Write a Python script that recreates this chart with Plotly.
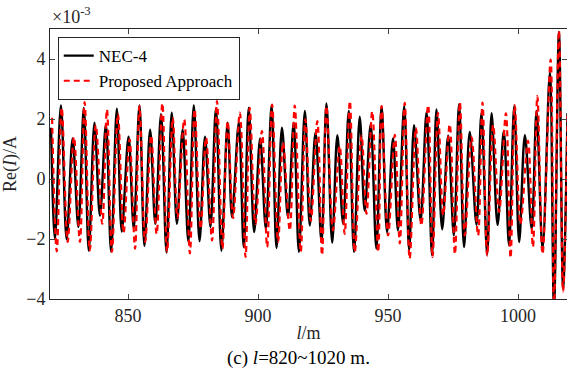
import plotly.graph_objects as go

# Position along wire l (m) of local extrema, and Re(I) values in units of 1e-3 A
nec_l = [820.4, 821.9, 824.2, 826.4, 828.7, 830.9, 833.0, 834.9, 837.1, 839.2,
         841.5, 843.5, 845.7, 847.6, 850.2, 852.2, 854.4, 856.3, 858.5, 860.5,
         862.7, 864.8, 866.8, 868.8, 871.0, 873.2, 875.3, 877.5, 879.6, 881.7,
         883.8, 885.9, 888.3, 890.0, 892.6, 894.5, 896.4, 898.5, 900.8, 903.0,
         905.2, 907.1, 909.2, 911.5, 913.7, 915.7, 918.0, 919.9, 922.1, 924.4,
         926.3, 928.5, 930.5, 932.7, 934.9, 936.9, 939.1, 941.0, 943.3, 945.5,
         947.5, 949.6, 951.9, 953.8, 956.2, 958.1, 960.0, 962.5, 964.8, 966.9,
         968.6, 970.8, 973.1, 975.3, 977.3, 979.2, 981.4, 984.0, 985.9, 988.1,
         989.8, 992.1, 994.5, 996.5, 998.5, 1000.4, 1002.6, 1005.2, 1007.1, 1009.4,
         1012.2, 1013.8, 1015.7, 1017.3, 1019.0]
nec_re = [1.71, -1.99, 2.45, -2.01, 1.35, -1.60, 2.37, -2.39, 1.88, -1.22,
          1.82, -2.42, 2.34, -1.75, 1.41, -1.64, 2.45, -2.23, 1.64, -1.49,
          2.16, -2.45, 2.21, -1.49, 1.64, -2.08, 2.45, -2.07, 1.41, -1.60,
          2.34, -2.39, 1.88, -1.27, 1.88, -2.27, 2.37, -1.77, 1.35, -1.66,
          2.45, -2.30, 1.71, -1.27, 1.88, -2.43, 2.27, -1.55, 1.55, -2.10,
          2.52, -2.12, 1.46, -1.49, 2.27, -2.43, 2.08, -1.05, 1.82, -2.32,
          2.43, -1.77, 1.35, -1.71, 2.43, -2.38, 1.79, -1.38, 2.23, -2.54,
          2.32, -1.68, 1.44, -1.88, 2.49, -2.27, 1.57, -1.53, 2.19, -2.52,
          2.19, -1.53, 1.60, -2.21, 2.43, -2.10, 1.46, -1.66, 2.27, -2.32,
          3.54, -4.30, 4.90, -3.65, 2.20]

prop_l = [820.8, 822.6, 824.5, 826.8, 829.2, 831.5, 833.3, 835.3, 837.6, 840.1,
          841.9, 843.8, 846.1, 848.3, 850.6, 852.7, 854.4, 856.6, 858.9, 861.0,
          863.2, 865.0, 867.2, 869.0, 871.6, 873.8, 875.6, 877.9, 880.0, 882.3,
          884.2, 886.3, 888.3, 890.4, 893.0, 895.2, 896.8, 899.0, 901.5, 903.5,
          905.4, 907.7, 909.6, 912.2, 914.1, 916.4, 918.2, 920.3, 922.8, 924.6,
          926.3, 928.8, 931.4, 933.3, 935.3, 937.2, 939.8, 941.7, 943.9, 946.2,
          947.5, 950.0, 952.6, 954.5, 956.4, 958.3, 960.7, 962.8, 965.4, 967.1,
          969.2, 971.2, 973.7, 975.7, 977.6, 979.5, 982.1, 984.6, 986.3, 988.1,
          990.4, 992.7, 995.3, 997.1, 998.7, 1000.9, 1003.8, 1005.7, 1007.4, 1009.4,
          1012.5, 1013.8, 1015.7, 1017.3, 1019.0]
prop_re = [2.04, -2.41, 2.37, -2.10, 1.40, -2.10, 2.56, -2.38, 1.80, -1.49,
           2.32, -2.43, 2.16, -1.80, 1.32, -2.32, 2.43, -2.10, 1.45, -1.83,
           2.52, -2.43, 2.04, -1.30, 1.99, -2.48, 2.32, -1.66, 1.38, -2.05,
           2.60, -2.32, 1.93, -1.30, 2.21, -2.60, 2.37, -1.50, 1.60, -2.27,
           2.48, -2.10, 1.21, -1.71, 2.45, -2.43, 1.99, -1.40, 1.93, -2.54,
           2.43, -1.71, 1.10, -1.83, 2.60, -2.43, 1.45, -1.16, 2.25, -2.43,
           2.43, -1.88, 1.47, -2.15, 2.54, -2.65, 1.70, -1.55, 2.46, -2.60,
           2.20, -1.20, 1.82, -2.50, 2.55, -1.88, 1.40, -1.88, 2.55, -2.55,
           1.80, -1.10, 2.19, -2.63, 2.46, -1.50, 1.27, -2.27, 2.76, -2.50,
           3.98, -4.30, 4.95, -3.75, 2.20]

y_ticks = [-4, -2, 0, 2, 4]
x_ticks = [850, 900, 950, 1000]

FONT = "Liberation Serif, Times New Roman, serif"
AX = "#262626"

fig = go.Figure()
fig.add_trace(go.Scatter(x=nec_l, y=nec_re, mode="lines", name="NEC-4",
                         line=dict(color="black", width=2.4, shape="spline", smoothing=1.0)))
fig.add_trace(go.Scatter(x=prop_l, y=prop_re, mode="lines", name="Proposed Approach",
                         line=dict(color="#ff0000", width=2.2, dash="6px,4px",
                                   shape="spline", smoothing=1.0)))

fig.update_layout(
    width=567, height=379,
    margin=dict(l=50, r=0, t=29, b=80),
    paper_bgcolor="white", plot_bgcolor="white",
    font=dict(family=FONT, size=18, color=AX),
    showlegend=True,
    legend=dict(x=0.015, y=0.97, xanchor="left", yanchor="top",
                bgcolor="white", bordercolor=AX, borderwidth=1,
                font=dict(family=FONT, size=17, color="black"),
                tracegroupgap=0, itemwidth=30),
    xaxis=dict(range=[820, 1018.8], tickvals=x_ticks, ticks="inside", ticklen=5,
               showline=True, linecolor=AX, linewidth=1, mirror="ticks",
               showgrid=False, zeroline=False,
               title=dict(text="<i>l</i>/m", font=dict(family=FONT, size=18), standoff=1),
               tickfont=dict(family=FONT, size=18, color=AX)),
    yaxis=dict(range=[-4, 5], tickvals=y_ticks, ticks="inside", ticklen=5,
               showline=True, linecolor=AX, linewidth=1, mirror="ticks",
               showgrid=False, zeroline=False,
               title=dict(text="Re(<i>I</i>)/A", font=dict(family=FONT, size=18), standoff=6),
               tickfont=dict(family=FONT, size=18, color=AX)),
    annotations=[
        dict(text="×10<sup>-3</sup>", xref="paper", yref="paper", x=0.0, y=1.0,
             xanchor="left", yanchor="bottom", showarrow=False,
             font=dict(family=FONT, size=18, color=AX)),
        dict(text="(c) <i>l</i>=820~1020 m.", xref="paper", yref="paper", x=0.48, y=-0.218,
             xanchor="center", yanchor="middle", showarrow=False,
             font=dict(family=FONT, size=19, color="black")),
    ],
)

fig.write_html("out.html")
